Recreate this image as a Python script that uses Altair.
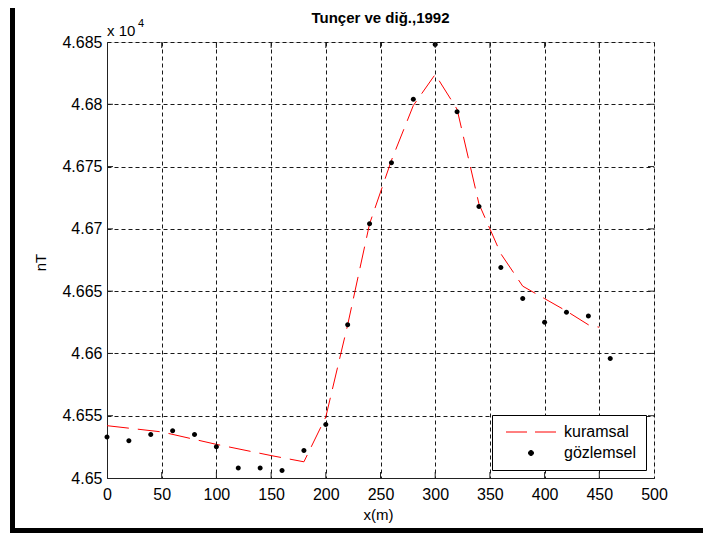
import altair as alt
import pandas as pd

# ---- data (y values in units of 1e4 nT, as shown on the axis) ----
obs_x = [0, 20, 40, 60, 80, 100, 120, 140, 160, 180, 200, 220, 240, 260, 280, 300,
         320, 340, 360, 380, 400, 420, 440, 460]
obs_y = [4.6533, 4.6530, 4.6535, 4.6538, 4.6535, 4.6525, 4.6508, 4.6508, 4.6506, 4.6522,
         4.6543, 4.6623, 4.6704, 4.6753, 4.6804, 4.6848, 4.6794, 4.6718, 4.6669, 4.6644,
         4.6625, 4.6633, 4.6630, 4.6596]

theo_x = [0, 50, 100, 150, 180, 200, 220, 240, 260, 280, 300, 320, 340, 360, 380,
          400, 420, 440, 450]
theo_y = [4.6542, 4.6537, 4.6527, 4.6518, 4.6513, 4.6549, 4.6623, 4.6704, 4.6755, 4.6799,
          4.6824, 4.6796, 4.6720, 4.6680, 4.6654, 4.6644, 4.6634, 4.6623, 4.6621]

series_names = ["kuramsal", "gözlemsel"]
x_ticks = [0, 50, 100, 150, 200, 250, 300, 350, 400, 450, 500]
y_ticks = [4.65, 4.655, 4.66, 4.665, 4.67, 4.675, 4.68, 4.685]

title_text = "Tunçer ve diğ.,1992"
x_title = "x(m)"
y_title = "nT"

FONT = "Liberation Sans"
W, H = 547, 436

obs = pd.DataFrame({"x": obs_x, "y": obs_y, "series": series_names[1]})
theo = pd.DataFrame({"x": theo_x, "y": theo_y, "series": series_names[0]})

xs = alt.Scale(domain=[0, 500], nice=False, zero=False)
ys = alt.Scale(domain=[4.65, 4.685], nice=False, zero=False)

color_scale = alt.Scale(domain=series_names, range=["#ff0000", "#000000"])
dash_path = "M-5,0H-0.8M0.8,0H5"
dot_path = "M-0.5,0A0.5,0.5,0,1,0,0.5,0A0.5,0.5,0,1,0,-0.5,0Z"
shape_scale = alt.Scale(domain=series_names, range=[dash_path, dot_path])

leg = alt.Legend(
    title=None, orient="none", legendX=385, legendY=373,
    strokeColor="#000000", fillColor="#ffffff", padding=9,
    labelFontSize=16, labelFont=FONT, labelColor="#000000",
    symbolOffset=22, labelOffset=25, rowPadding=5, symbolSize=100,
    symbolStrokeWidth=1,
    labelExpr="datum.label + '\u00a0\u00a0\u00a0\u00a0'",
)

x_axis = alt.Axis(
    values=x_ticks, grid=True, gridDash=[4, 3], gridColor="#000000", gridOpacity=0.9,
    ticks=False, tickSize=0, labelPadding=8, labelFontSize=16, labelFont=FONT,
    labelColor="#000000", domainColor="#222222", title=x_title, titleFont=FONT,
    titleFontSize=15, titleFontWeight="normal", titleColor="#000000",
    titleX=271, titleY=41, titleBaseline="alphabetic", titleAlign="center",
    labelFlush=False,
)
y_axis = alt.Axis(
    values=y_ticks, grid=True, gridDash=[4, 3], gridColor="#000000", gridOpacity=0.9,
    ticks=False, tickSize=0, labelPadding=5, labelFontSize=16, labelFont=FONT,
    labelColor="#000000", domainColor="#222222", format=".3~f", title=y_title,
    titleFont=FONT, titleFontSize=15, titleFontWeight="normal", titleColor="#000000",
    titleX=-62, titleY=220, titleAngle=-90, titleBaseline="alphabetic",
    titleAlign="center", labelFlush=False,
)

line = alt.Chart(theo).mark_line(strokeDash=[22, 9], strokeWidth=1).encode(
    x=alt.X("x:Q", scale=xs, axis=x_axis),
    y=alt.Y("y:Q", scale=ys, axis=y_axis),
    color=alt.Color("series:N", scale=color_scale, legend=leg),
)

points = alt.Chart(obs).mark_point(filled=True, size=100, opacity=1).encode(
    x=alt.X("x:Q", scale=xs),
    y=alt.Y("y:Q", scale=ys),
    color=alt.Color("series:N", scale=color_scale, legend=leg),
    shape=alt.Shape("series:N", scale=shape_scale, legend=leg),
)

# inner ticks (MATLAB style) on all four sides
xt = pd.DataFrame({"x": x_ticks[1:-1]})
yt = pd.DataFrame({"y": y_ticks[1:-1]})
tick_style = dict(color="#222222", strokeWidth=1)
xb = alt.Chart(xt).mark_rule(**tick_style).encode(x=alt.X("x:Q", scale=xs), y=alt.value(H), y2=alt.value(H - 6))
xtp = alt.Chart(xt).mark_rule(**tick_style).encode(x=alt.X("x:Q", scale=xs), y=alt.value(0), y2=alt.value(6))
yl = alt.Chart(yt).mark_rule(**tick_style).encode(y=alt.Y("y:Q", scale=ys), x=alt.value(0), x2=alt.value(6))
yr = alt.Chart(yt).mark_rule(**tick_style).encode(y=alt.Y("y:Q", scale=ys), x=alt.value(W), x2=alt.value(W - 6))

# title and exponent label
title_mark = alt.Chart(pd.DataFrame({"t": [title_text]})).mark_text(
    align="center", baseline="alphabetic", font=FONT, fontSize=15, fontWeight="bold",
    color="#000000").encode(x=alt.value(W / 2), y=alt.value(-19), text="t:N")
exp_base = alt.Chart(pd.DataFrame({"t": ["x 10"]})).mark_text(
    align="left", baseline="alphabetic", font=FONT, fontSize=15, color="#000000").encode(
    x=alt.value(0), y=alt.value(-6), text="t:N")
exp_sup = alt.Chart(pd.DataFrame({"t": ["4"]})).mark_text(
    align="left", baseline="alphabetic", font=FONT, fontSize=11, color="#000000").encode(
    x=alt.value(31), y=alt.value(-15), text="t:N")

# black figure frame (screenshot border)
frame_left = alt.Chart(pd.DataFrame({"a": [0]})).mark_rect(color="#000000").encode(
    x=alt.value(-97), x2=alt.value(-92), y=alt.value(-34), y2=alt.value(491))
frame_bottom = alt.Chart(pd.DataFrame({"a": [0]})).mark_rect(color="#000000").encode(
    x=alt.value(-97), x2=alt.value(600), y=alt.value(486), y2=alt.value(491))

chart = alt.layer(
    line, points, xb, xtp, yl, yr, title_mark, exp_base, exp_sup, frame_left, frame_bottom
).resolve_scale(color="shared", shape="shared").properties(
    width=W, height=H,
    autosize=alt.AutoSizeParams(type="none"),
    padding={"left": 99, "top": 34, "right": 49, "bottom": 55},
).configure_view(stroke="#222222", strokeWidth=1).configure(background="#ffffff")

chart.save("out.html", embed_options={"renderer": "svg", "actions": False})
